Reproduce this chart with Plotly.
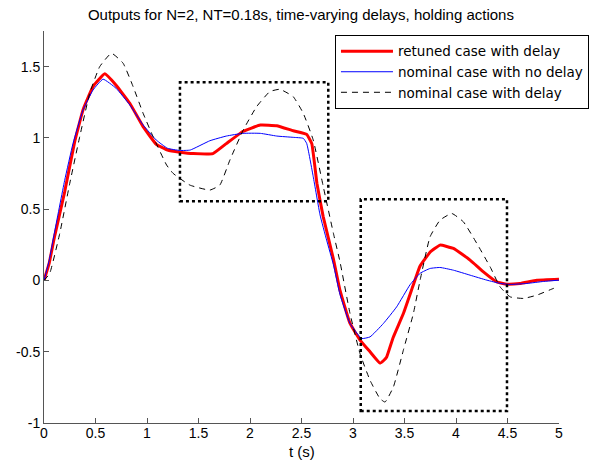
import plotly.graph_objects as go

# ---- data ----
t_red = [0, 0.05, 0.1, 0.2, 0.3, 0.38, 0.476, 0.59, 0.7, 0.833, 0.962, 1.09, 1.2, 1.32, 1.45, 1.64,
         1.77, 1.93, 2.1, 2.26, 2.42, 2.55, 2.6, 2.65, 2.71, 2.81, 2.874, 2.97, 3.07, 3.165, 3.262,
         3.3, 3.327, 3.39, 3.49, 3.586, 3.65, 3.75, 3.845, 3.975, 4.137, 4.266, 4.396, 4.494, 4.62,
         4.785, 5.0]
y_red = [0, 0.12, 0.3, 0.62, 0.98, 1.2, 1.36, 1.45, 1.37, 1.243, 1.079, 0.955, 0.915, 0.9, 0.89, 0.89,
         0.96, 1.045, 1.09, 1.086, 1.05, 1.025, 0.96, 0.68, 0.45, 0.15, -0.07, -0.30, -0.42, -0.50, -0.58,
         -0.56, -0.537, -0.40, -0.23, -0.03, 0.10, 0.20, 0.248, 0.225, 0.143, 0.06, -0.01, -0.026, -0.021,
         0.002, 0.009]

t_blue = [0, 0.05, 0.1, 0.2, 0.282, 0.379, 0.476, 0.573, 0.7, 0.833, 0.962, 1.09, 1.2, 1.32, 1.42, 1.61,
          1.77, 1.93, 2.1, 2.26, 2.42, 2.517, 2.55, 2.614, 2.68, 2.744, 2.81, 2.874, 2.97, 3.084, 3.165,
          3.295, 3.424, 3.554, 3.651, 3.748, 3.845, 3.975, 4.137, 4.3, 4.43, 4.526, 4.688, 4.85, 5.0]
y_blue = [0, 0.14, 0.33, 0.70, 0.962, 1.196, 1.336, 1.412, 1.348, 1.231, 1.091, 0.985, 0.927, 0.912, 0.915,
          0.98, 1.013, 1.032, 1.032, 1.013, 1.004, 0.997, 0.962, 0.728, 0.46, 0.283, 0.11, -0.10, -0.30,
          -0.407, -0.396, -0.302, -0.185, -0.03, 0.05, 0.084, 0.091, 0.072, 0.037, 0.002, -0.021, -0.028,
          -0.021, -0.007, 0.002]

t_black = [0, 0.055, 0.153, 0.25, 0.347, 0.444, 0.541, 0.655, 0.768, 0.865, 0.962, 1.059, 1.19, 1.254,
           1.416, 1.61, 1.707, 1.805, 1.934, 2.064, 2.193, 2.29, 2.42, 2.517, 2.614, 2.711, 2.81, 2.874,
           2.971, 3.068, 3.165, 3.262, 3.311, 3.392, 3.489, 3.586, 3.651, 3.748, 3.845, 3.959, 4.072,
           4.202, 4.331, 4.428, 4.526, 4.655, 4.785, 4.946, 5.0]
y_black = [0, 0.049, 0.33, 0.681, 1.009, 1.313, 1.5, 1.594, 1.524, 1.36, 1.173, 1.009, 0.81, 0.751,
           0.669, 0.634, 0.669, 0.845, 1.055, 1.219, 1.325, 1.341, 1.289, 1.173, 0.985, 0.66, 0.33, 0.13,
           -0.232, -0.513, -0.70, -0.829, -0.853, -0.747, -0.489, -0.232, 0.0, 0.306, 0.423, 0.47, 0.411,
           0.26, 0.096, -0.045, -0.115, -0.126, -0.103, -0.056, -0.045]

series_names = ["retuned case with delay", "nominal case with no delay", "nominal case with delay"]

# highlight boxes (data coordinates)
box_x0 = [1.32, 3.075]
box_x1 = [2.76, 4.495]
box_y0 = [0.555, -0.915]
box_y1 = [1.39, 0.57]

x_ticks = [0, 0.5, 1, 1.5, 2, 2.5, 3, 3.5, 4, 4.5, 5]
x_ticklabels = ["0", "0.5", "1", "1.5", "2", "2.5", "3", "3.5", "4", "4.5", "5"]
y_ticks = [-1, -0.5, 0, 0.5, 1, 1.5]
y_ticklabels = ["-1", "-0.5", "0", "0.5", "1", "1.5"]

title_text = "Outputs for N=2, NT=0.18s, time-varying delays, holding actions"
xlabel_text = "t (s)"

FONT = "Liberation Sans, Arial, Helvetica, sans-serif"
LEGFONT = "DejaVu Sans, Liberation Sans, sans-serif"

fig = go.Figure()
fig.add_trace(go.Scatter(x=t_red, y=y_red, mode="lines", name=series_names[0],
                         line=dict(color="#ff0000", width=3, shape="spline", smoothing=0.3)))
fig.add_trace(go.Scatter(x=t_blue, y=y_blue, mode="lines", name=series_names[1],
                         line=dict(color="#0000ff", width=1, shape="spline", smoothing=0.4)))
fig.add_trace(go.Scatter(x=t_black, y=y_black, mode="lines", name=series_names[2],
                         line=dict(color="#000000", width=1, dash="6px,5px", shape="spline", smoothing=0.4)))

for x0, x1, y0, y1 in zip(box_x0, box_x1, box_y0, box_y1):
    fig.add_shape(type="rect", x0=x0, x1=x1, y0=y0, y1=y1, xref="x", yref="y",
                  line=dict(color="black", width=2.5, dash="dot"))

fig.add_annotation(text=xlabel_text, x=0.5, xref="paper", y=0, yref="paper",
                   xanchor="center", yanchor="top", yshift=-18, showarrow=False,
                   font=dict(family=FONT, size=15, color="black"))

fig.update_layout(
    width=593, height=464,
    margin=dict(l=44, r=34, t=31, b=41, autoexpand=False),
    paper_bgcolor="white", plot_bgcolor="white",
    font=dict(family=FONT, size=14, color="black"),
    title=dict(text=title_text, x=0.5075, xanchor="center", y=1 - 15 / 464, yref="container",
               yanchor="middle", font=dict(family=FONT, size=15, color="black")),
    showlegend=True,
    legend=dict(x=0.565, xanchor="left", y=0.99, yanchor="top",
                bordercolor="black", borderwidth=1, bgcolor="white",
                font=dict(family=LEGFONT, size=13.5, color="black"),
                tracegroupgap=0, itemwidth=52),
)
fig.update_xaxes(range=[0, 5], tickvals=x_ticks, ticktext=x_ticklabels, automargin=False,
                 showgrid=False, zeroline=False, showline=True, linecolor="#555555", linewidth=1,
                 ticks="inside", ticklen=5, tickcolor="#555555", ticklabelstandoff=-3,
                 tickfont=dict(family=FONT, size=14))
fig.update_yaxes(range=[-1, 1.75], tickvals=y_ticks, ticktext=y_ticklabels, automargin=False,
                 showgrid=False, zeroline=False, showline=True, linecolor="#555555", linewidth=1,
                 ticks="inside", ticklen=5, tickcolor="#555555",
                 tickfont=dict(family=FONT, size=14))

fig.write_html("out.html", config={"displayModeBar": False},
               post_script="document.body.style.margin='0';document.body.style.padding='0';")
